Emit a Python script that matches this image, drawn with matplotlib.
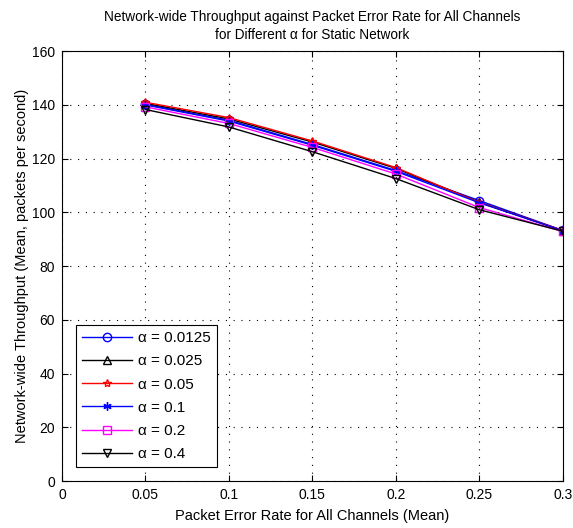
import matplotlib
matplotlib.use('Agg')
import matplotlib.pyplot as plt

plt.rcParams['font.family'] = ['Liberation Sans', 'DejaVu Sans']

# datos
per = [0.05, 0.1, 0.15, 0.2, 0.25, 0.3]
t_00125 = [140.2, 134.3, 125.3, 115.6, 104.4, 93.3]
t_0025 = [140.6, 134.8, 126.2, 116.4, 103.8, 93.2]
t_005 = [141.0, 135.3, 126.6, 116.7, 103.7, 93.3]
t_01 = [140.0, 134.0, 125.0, 115.3, 103.6, 93.2]
t_02 = [139.3, 133.1, 124.2, 114.3, 101.8, 92.9]
t_04 = [138.3, 131.8, 122.6, 112.6, 101.0, 93.0]

etiquetas = ['α = 0.0125', 'α = 0.025', 'α = 0.05', 'α = 0.1', 'α = 0.2', 'α = 0.4']
series = [t_00125, t_0025, t_005, t_01, t_02, t_04]
colores = ['#0000ff', '#000000', '#ff0000', '#0000ff', '#ff00ff', '#000000']
marcadores = ['o', '^', '*', (6, 2, 0), 's', 'v']

fig = plt.figure(figsize=(5.73, 5.28), dpi=100)
ax = fig.add_axes([0.108, 0.089, 0.874, 0.814])

for y, lab, c, m in zip(series, etiquetas, colores, marcadores):
    ax.plot(per, y, color=c, marker=m, markersize=6, markerfacecolor='none',
            markeredgecolor=c, linewidth=1, label=lab)

ax.set_xlim(0, 0.3)
ax.set_ylim(0, 160)
ax.set_xticks([0, 0.05, 0.1, 0.15, 0.2, 0.25, 0.3])
ax.set_xticklabels(['0', '0.05', '0.1', '0.15', '0.2', '0.25', '0.3'])
ax.set_yticks(range(0, 161, 20))
ax.grid(True, linestyle=(0, (1, 6)), color='black', linewidth=0.8)
ax.tick_params(direction='in', top=True, right=True, labelsize=10, length=4, pad=5)

ax.set_xlabel('Packet Error Rate for All Channels (Mean)', fontsize=10.5, labelpad=5)
ax.set_ylabel('Network-wide Throughput (Mean, packets per second)', fontsize=10.5, labelpad=2)
ax.set_title('Network-wide Throughput against Packet Error Rate for All Channels\n'
             'for Different α for Static Network', fontsize=9.8, pad=9, linespacing=1.35)

leg = ax.legend(loc='lower left', fontsize=11, fancybox=False, framealpha=1,
                edgecolor='black', handlelength=3.3, handletextpad=0.4,
                borderaxespad=0.9, labelspacing=0.6)
leg.get_frame().set_linewidth(0.8)

plt.savefig('out.png', dpi=100)
plt.close()
